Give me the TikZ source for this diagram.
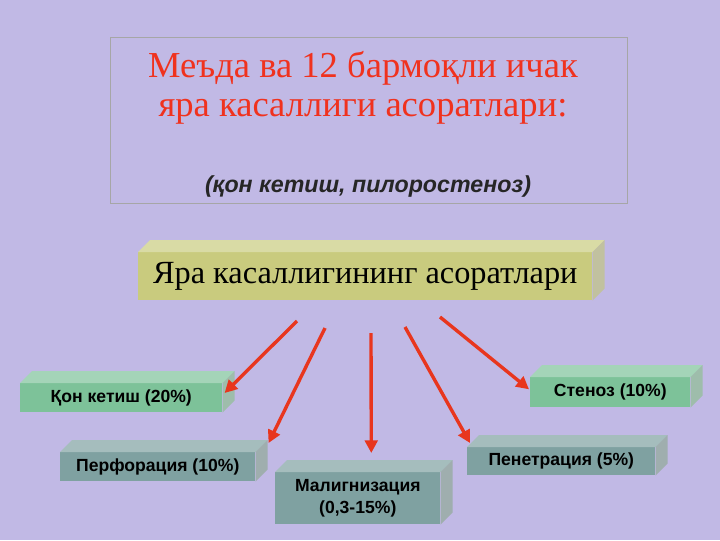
\documentclass[tikz,border=0pt]{standalone}
\usepackage{fontspec}
\setmainfont{Liberation Serif}
\setsansfont{Liberation Sans}
\usetikzlibrary{arrows.meta,calc}
\definecolor{bgc}{HTML}{C1B9E5}
\definecolor{olive}{HTML}{C9CB7E}
\definecolor{greenbox}{HTML}{7DC299}
\definecolor{tealbox}{HTML}{7FA1A1}
\definecolor{redarrow}{HTML}{E8361E}
\definecolor{titlered}{HTML}{F0321E}
\newcommand{\solidfaces}[2]{%
  \fill[#2!70!white] (#1.north west) -- ++(12,-12) -- ($(#1.north east)+(12,-12)$) -- (#1.north east) -- cycle;
  \fill[#2!75!black!60!white] (#1.north east) -- ++(12,-12) -- ($(#1.south east)+(12,-12)$) -- (#1.south east) -- cycle;}
\begin{document}
\begin{tikzpicture}[x=0.025cm, y=-0.025cm,
    block/.style args={#1/#2/#3}{fill=#1, inner sep=0pt, align=center, anchor=north west,
      minimum width={#2*0.025cm}, minimum height={#3*0.025cm},
      font=\sffamily\bfseries\fontsize{12.5}{15}\selectfont},
    arr/.style={redarrow, line width=2.4pt, -{Triangle[length=9pt, width=9pt]}}]
  % Background
  \fill[bgc] (0,0) rectangle (720,540);
  \useasboundingbox (0,0) rectangle (720,540);

  % Title
  \draw[gray!70, thin] (110,37) rectangle (627,203);
  \node[text=titlered, font=\fontsize{26}{28}\selectfont, align=center] (title) at (363,88)
    {Меъда ва 12 бармоқли ичак\\ яра касаллиги асоратлари:};
  \node[text=black!85, font=\sffamily\bfseries\itshape\fontsize{16.5}{18}\selectfont] (subtitle) at (368,186)
    {(қон кетиш, пилоростеноз)};

  % Main block
  \node[block=olive/454/48, font=\fontsize{23}{26}\selectfont] (main) at (138,252) {Яра касаллигининг асоратлари};
  \solidfaces{main}{olive}

  % Complication blocks
  \node[block=greenbox/202/29] (kon) at (20,383) {Қон кетиш (20\%)};
  \solidfaces{kon}{greenbox}
  \node[block=tealbox/195/29] (perf) at (60,452) {Перфорация (10\%)};
  \solidfaces{perf}{tealbox}
  \node[block=tealbox/165/52] (malig) at (275,472) {Малигнизация\\(0,3-15\%)};
  \solidfaces{malig}{tealbox}
  \node[block=tealbox/188/28] (pen) at (467,447) {Пенетрация (5\%)};
  \solidfaces{pen}{tealbox}
  \node[block=greenbox/160/30] (sten) at (530,377) {Стеноз (10\%)};
  \solidfaces{sten}{greenbox}

  % Arrows
  \coordinate (s1) at (297,321);
  \coordinate (s2) at (325,328);
  \coordinate (s3) at (371,333);
  \coordinate (s4) at (405,327);
  \coordinate (s5) at (440,317);
  \draw[arr] (s1) -- ($(kon.north east)+(2,10)$);
  \draw[arr] (s2) -- ($(perf.north east)+(13,-9)$);
  \draw[arr] (s3) -- ($(malig.north)+(13.5,-19)$);
  \draw[arr] (s4) -- ($(pen.north west)+(3,-4)$);
  \draw[arr] (s5) -- ($(sten.west)+(-1,-3)$);
\end{tikzpicture}
\end{document}
